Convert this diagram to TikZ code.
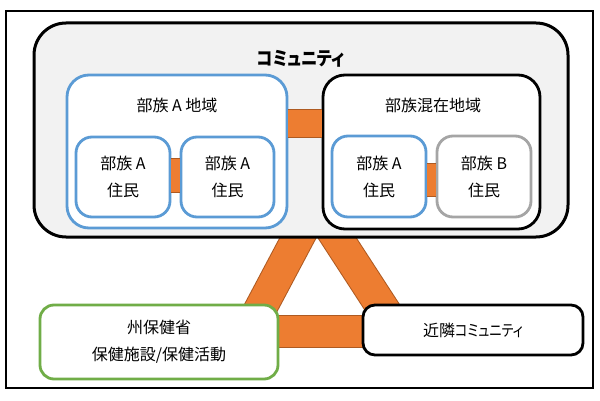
\documentclass[tikz,border=0pt]{standalone}
\usepackage{fontspec}
\setmainfont{Noto Sans CJK JP}
\newfontfamily\jpp{Noto Sans CJK JP}[RawFeature=+palt, FakeStretch=0.82]
\newfontfamily\jpt{Noto Sans CJK JP}[RawFeature=+palt, FakeStretch=0.86]
\pgfdeclarelayer{back}
\pgfdeclarelayer{mid}
\pgfsetlayers{back,mid,main}
\definecolor{bluebox}{HTML}{5B9BD5}
\definecolor{greenbox}{HTML}{70AD47}
\definecolor{graybox}{HTML}{A5A5A5}
\definecolor{commfill}{HTML}{F2F2F2}
\definecolor{ofill}{HTML}{ED7D31}
\definecolor{obord}{HTML}{AE5A21}
\tikzset{
  box/.style={draw, rounded corners=#1, inner sep=0pt, fill=white, line width=2.8pt,
    align=center, font=\fontsize{16}{27}\selectfont},
  box/.default=16pt,
  lbl/.style={inner sep=0pt, font=\fontsize{16}{20}\selectfont},
  band/.style={draw=obord, line width=1pt, double=ofill, double distance=#1},
  band/.default=31pt
}
\begin{document}
\begin{tikzpicture}[x=1pt,y=-1pt]
\useasboundingbox (0,0) rectangle (600,401);
\begin{pgfonlayer}{back}
  \fill[white] (0,0) rectangle (600,401);
\end{pgfonlayer}
% outer frame
\draw[line width=2.6pt] (6,11) rectangle (593,388);
% nodes
\node (comm) [box=32pt, fill=commfill, line width=3pt, minimum width=534pt, minimum height=214pt] at (301,130) {};
\node (commt) [lbl, font=\jpt\bfseries\fontsize{19}{24}\selectfont] at (301,59) {コミュニティ};
\node (regA) [box=22pt, draw=bluebox, minimum width=220pt, minimum height=153pt] at (177,151.5) {};
\node (regAt) [lbl] at (177,105) {部族 A 地域};
\node (mix) [box=22pt, minimum width=217pt, minimum height=154pt] at (431.5,152) {};
\node (mixt) [lbl] at (433,105) {部族混在地域};
\node (a1) [box, draw=bluebox, minimum width=94pt, minimum height=80pt] at (123,177) {部族 A\\住民};
\node (a2) [box, draw=bluebox, minimum width=93pt, minimum height=80pt] at (227.5,177) {部族 A\\住民};
\node (a3) [box, draw=bluebox, minimum width=94pt, minimum height=81pt] at (379,176.5) {部族 A\\住民};
\node (b1) [box, draw=graybox, minimum width=94pt, minimum height=81pt] at (484,176.5) {部族 B\\住民};
\node (moh) [box=14pt, draw=greenbox, minimum width=238pt, minimum height=74pt] at (159,342) {州保健省\\保健施設/保健活動};
\node (near) [box=12pt, minimum width=220pt, minimum height=50pt] at (473,330) {近隣{\jpp コミュニティ}};
% helper coordinates
\coordinate (ya) at (0,175.5);
\coordinate (yb) at (0,180);
\coordinate (yc) at (0,123.5);
\coordinate (yh) at (0,331.5);
\coordinate (L1) at (311.7,212);
\coordinate (L2) at (257,315);
\coordinate (R1) at (320.3,212);
\coordinate (R2) at (387.2,315);
% triangle bands (behind boxes)
\begin{pgfonlayer}{mid}
  \draw[band] (L1) -- (L2);
  \draw[band] (R1) -- (R2);
  \draw[band] (moh.center |- yh) -- (near.center |- yh);
\end{pgfonlayer}
% bars between boxes
\draw[band=27pt, shorten <=-0.5pt] (regA.east |- yc) -- (mix.west |- yc);
\draw[band=33pt] (a1.east |- ya) -- (a2.west |- ya);
\draw[band=32pt] (a3.east |- yb) -- (b1.west |- yb);
\end{tikzpicture}
\end{document}
